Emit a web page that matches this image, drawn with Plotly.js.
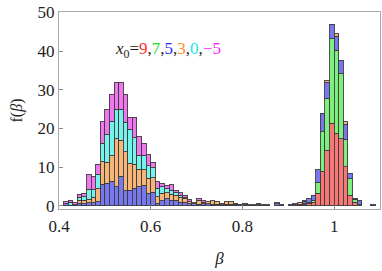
<!DOCTYPE html>
<html>
<head>
<meta charset="utf-8">
<script src="https://cdn.plot.ly/plotly-3.0.1.min.js"></script>
<style>html,body{margin:0;padding:0;background:#fff;}#chart{width:382px;height:271px;}</style>
</head>
<body>
<div id="chart"></div>
<script>
// bin centres (bin width 0.01, left edges 0.41 ... 1.08)
const binCenters = [
  0.415,0.425,0.435,0.445,0.455,0.465,0.475,0.485,0.495,0.505,
  0.515,0.525,0.535,0.545,0.555,0.565,0.575,0.585,0.595,0.605,
  0.615,0.625,0.635,0.645,0.655,0.665,0.675,0.685,0.695,0.705,
  0.715,0.725,0.735,0.745,0.755,0.765,0.775,0.785,0.795,0.805,
  0.815,0.825,0.835,0.845,0.855,0.865,0.875,0.885,0.895,0.905,
  0.915,0.925,0.935,0.945,0.955,0.965,0.975,0.985,0.995,1.005,
  1.015,1.025,1.035,1.045,1.055,1.065,1.075,1.085
];
const seriesNames = ["x0=9","x0=7","x0=5","x0=3","x0=0","x0=-5"];
const seriesColors = ["#f77777","#7cef7c","#7777ef","#f7b677","#77f3ee","#ef77ef"];
// f(beta) values, stacked bottom (x0=9) to top (x0=-5)
const fX9 = [
  0,0,0,0,0,0,0,0,0,0,
  0,0,0,0,0,0,0,0,0,0,
  0,0,0,0,0,0,0,0,0,0,
  0,0,0,0,0,0,0,0,0,0,
  0,0,0,0,0,0,0,0,0,0,
  0,0,0.3,0.5,0.9,3.3,8.8,14.4,21.3,18.8,
  17.4,10.1,2.8,0.9,0,0,0,0
];
const fX7 = [
  0,0,0,0,0,0,0,0,0,0,
  0,0,0,0,0,0,0,0,0,0,
  0,0,0,0,0,0,0,0,0,0,
  0,0,0,0,0,0,0,0,0,0,
  0,0,0,0,0,0,0,0,0,0,
  0,0,0.3,0.5,0.5,2.8,10.3,13.4,21.9,21.4,
  16.8,7.1,4.2,0.8,0.3,0,0,0
];
const fX5 = [
  0.5,0.2,0.3,0.7,0.6,0.8,0.8,1.1,5.6,5.8,
  6.4,5.0,7.6,3.9,4.1,4.5,5.0,5.4,3.3,3.5,
  0.7,1.3,1.8,1.5,1.5,1.0,1.0,0.6,0.5,0.4,
  0.5,0.5,0.4,0.4,0.3,0.4,0.4,0.4,0.4,0.3,
  0.3,0.3,0.3,0.3,0.3,0,0.5,0.4,0,0.4,
  0.3,0.4,0.6,0.8,1.4,3.2,4.9,4.0,3.7,3.6,
  3.4,3.9,1.4,0.3,1.2,0,0,0.3
];
const fX3 = [
  0,0,0,0.7,0.8,0.9,1.5,3.3,5.8,5.5,
  6.6,12.4,9.4,10.1,6.9,6.2,4.5,3.9,3.8,3.8,
  1.7,2.0,1.6,1.5,1.2,1.3,0.8,0.5,0.5,1.1,
  0.4,0.6,0.9,0.8,0.3,0.7,0.7,0.3,0,0,
  0,0,0.4,0,0,0,0.3,0,0,0,
  0.2,0.4,0.2,0,0,0,0,0.7,0,0.7,
  0,0.6,0,0,0,0,0,0
];
const fX0 = [
  0,0.7,0,0.8,1.0,2.6,1.9,3.8,4.8,7.2,
  8.7,7.6,8.0,7.6,8.8,6.9,3.6,3.8,3.3,2.6,
  2.2,1.7,1.0,1.1,0.7,0.4,0.3,0,0,0,
  0,0,0,0,0,0,0,0,0,0.4,
  0,0,0,0,0,0,0,0,0,0,
  0,0,0,0,0,0,0,0,0,0,
  0,0,0,0,0,0,0,0
];
const fXm5 = [
  0.6,0.6,0.5,0.8,0.9,3.7,3.3,2.5,5.5,6.4,
  7.1,7.0,7.0,7.3,3.1,5.3,4.8,3.1,2.9,1.4,
  1.7,0.8,1.0,1.4,0.5,0.7,0.7,0.5,0,0.3,
  0.5,0,0,0,0,0,0,0,0,0,
  0,0,0,0,0,0,0,0,0,0,
  0,0,0,0,0,0,0,0,0,0,
  0,0,0,0,0,0,0,0
];
const yTicks = [0,10,20,30,40,50];
const xTicks = [0.4,0.6,0.8,1.0];
const xTickLabels = ["0.4","0.6","0.8","1"];

const allSeries = [fX9,fX7,fX5,fX3,fX0,fXm5];
const traces = allSeries.map((vals,i)=>({
  type:"bar",
  name:seriesNames[i],
  x:binCenters,
  y:vals.map(v=> v>0 ? v : null),
  width:0.01,
  marker:{color:seriesColors[i], line:{color:"rgba(60,60,60,0.9)", width:1}},
  hoverinfo:"skip"
}));

const serif = "Liberation Serif, Times New Roman, serif";
const layout = {
  width:382, height:271,
  margin:{l:59, r:2, t:12, b:62},
  paper_bgcolor:"#fff", plot_bgcolor:"#fff",
  barmode:"stack", bargap:0, showlegend:false,
  font:{family:serif, size:17, color:"#222"},
  xaxis:{
    range:[0.4,1.1], tickvals:xTicks, ticktext:xTickLabels,
    ticks:"inside", ticklen:4, tickcolor:"#888", tickwidth:1,
    showline:true, linecolor:"#aaa", linewidth:1, mirror:true,
    showgrid:false, zeroline:false, ticklabelstandoff:2,
    tickfont:{family:serif, size:17, color:"#222"},
    title:{text:"<i>β</i>", font:{family:serif, size:17, color:"#222"}, standoff:16}
  },
  yaxis:{
    range:[-0.8,50.1], tickvals:yTicks,
    ticks:"inside", ticklen:4, tickcolor:"#888", tickwidth:1,
    showline:true, linecolor:"#aaa", linewidth:1, mirror:true,
    showgrid:false, zeroline:false,
    tickfont:{family:serif, size:17, color:"#222"},
    title:{text:"f(<i>β</i>)", font:{family:serif, size:16, color:"#222"}, standoff:10}
  },
  annotations:[{
    xref:"paper", yref:"paper", x:0.34, y:0.807, xanchor:"center", yanchor:"middle",
    showarrow:false, font:{family:serif, size:17, color:"#222"},
    text:'<i>x</i><sub>0</sub>=<span style="color:#ff2a2a">9</span>,<span style="color:#22dd22">7</span>,<span style="color:#2a2aff">5</span>,<span style="color:#ff8c1a">3</span>,<span style="color:#1ae8e8">0</span>,<span style="color:#ff1aff">−5</span>'
  }]
};
Plotly.newPlot("chart", traces, layout, {staticPlot:true, displayModeBar:false});
</script>
</body>
</html>
